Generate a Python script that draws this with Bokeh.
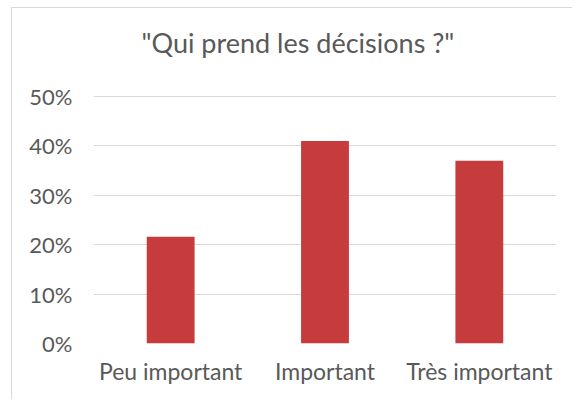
from bokeh.plotting import figure
from bokeh.models import NumeralTickFormatter, FixedTicker, Range1d
from bokeh.embed import file_html
from bokeh.resources import INLINE

categories = ["Peu important", "Important", "Très important"]
values = [0.216, 0.410, 0.370]
y_ticks = [0, 0.1, 0.2, 0.3, 0.4, 0.5]
title_text = '"Qui prend les décisions ?"'

TEXT = "#595959"
GRID = "#d9d9d9"
BAR = "#C63B3B"
FONT = "Lato"

# frame extends above the 50% line (empty headroom) so the title can sit higher
p = figure(x_range=categories, y_range=Range1d(0, 0.5668),
           width=561, height=392, output_backend="svg", toolbar_location=None,
           min_border_left=81, min_border_right=17, min_border_top=55, min_border_bottom=57)
p.styles = {"border-left": f"1px solid {GRID}", "border-top": f"1px solid {GRID}",
            "margin-left": "11px", "margin-top": "7px"}

p.vbar(x=categories, top=values, width=0.31, color=BAR, line_color=None)

p.title.text = title_text
p.title.align = "left"
p.title.offset = 48
p.title.standoff = 9
p.title.text_font = FONT
p.title.text_font_size = "27px"
p.title.text_font_style = "normal"
p.title.text_color = TEXT

p.outline_line_color = None
p.background_fill_color = "white"
p.border_fill_color = "white"

p.xgrid.grid_line_color = None
p.ygrid.grid_line_color = GRID
p.ygrid.grid_line_width = 1
p.ygrid.ticker = FixedTicker(ticks=y_ticks)

p.yaxis.ticker = FixedTicker(ticks=y_ticks)
p.yaxis.formatter = NumeralTickFormatter(format="0%")
for ax in (p.xaxis, p.yaxis):
    ax.axis_line_color = None
    ax.major_tick_line_color = None
    ax.minor_tick_line_color = None
    ax.major_tick_out = 0
    ax.major_tick_in = 0
    ax.major_label_text_font = FONT
    ax.major_label_text_color = TEXT
p.yaxis.major_label_text_font_size = "22px"
p.xaxis.major_label_text_font_size = "23px"
p.yaxis.major_label_standoff = 21
p.xaxis.major_label_standoff = 13
p.x_range.range_padding = 0

open("out.html", "w").write(file_html(p, INLINE))
